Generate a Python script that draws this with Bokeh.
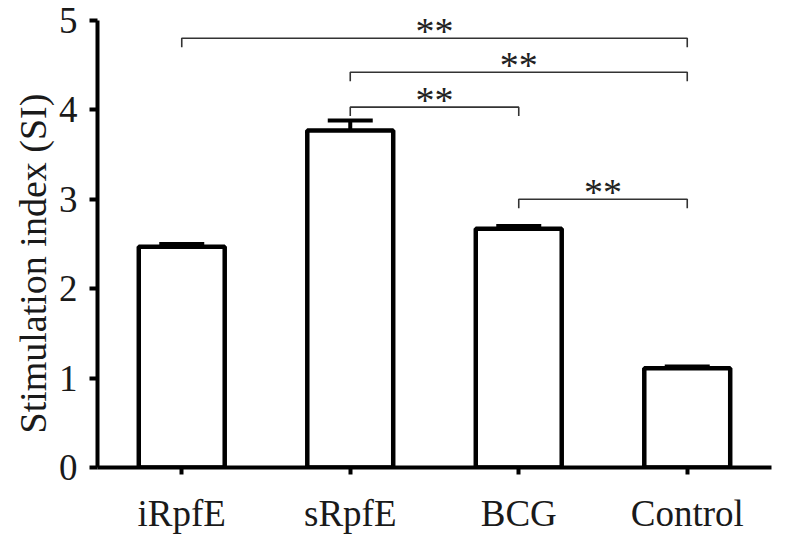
from bokeh.plotting import figure
from bokeh.models import ColumnDataSource, FixedTicker, Whisker, Title
from bokeh.embed import file_html
from bokeh.resources import INLINE
from bokeh.core.properties import value

categories = ["iRpfE", "sRpfE", "BCG", "Control"]
means = [2.47, 3.77, 2.67, 1.11]
errors = [0.03, 0.11, 0.03, 0.02]

# significance brackets: (start index, end index, height)
br_start = [0, 1, 1, 2]
br_end = [3, 3, 2, 3]
br_height = [4.80, 4.42, 4.03, 3.00]
br_label = ["**", "**", "**", "**"]
y_title = "Stimulation index (SI)"

xs = list(range(len(categories)))
FONT = "Liberation Serif"

p = figure(width=780, height=536, x_range=(-0.5, 3.5), y_range=(0, 5.2),
           output_backend="svg", toolbar_location=None,
           min_border_left=97, min_border_right=9, min_border_top=2, min_border_bottom=66)
p.outline_line_color = None
p.xgrid.visible = False
p.ygrid.visible = False

src = ColumnDataSource(dict(x=xs, top=means,
                            upper=[m + e for m, e in zip(means, errors)],
                            lower=[m - e for m, e in zip(means, errors)]))
p.vbar(x="x", top="top", bottom=0, width=0.51, source=src,
       fill_color="white", line_color="black", line_width=4.5)
w = Whisker(base="x", upper="upper", lower="lower", source=src,
            line_color="black", line_width=4)
for hd in (w.upper_head, w.lower_head):
    hd.size = 45
    hd.line_width = 4
    hd.line_color = "black"
p.add_layout(w)

drop = 0.1
for s, e, h, lab in zip(br_start, br_end, br_height, br_label):
    p.line([s, s, e, e], [h - drop, h, h, h - drop], line_color="#333333", line_width=1.6)
    p.text(x=[(s + e) / 2], y=[h + 0.08], text=[lab], text_align="center",
           text_baseline="alphabetic", text_font=value(FONT), text_font_size="38px",
           text_color="#222222")

p.xaxis.ticker = FixedTicker(ticks=xs)
p.xaxis.major_label_overrides = {i: c for i, c in enumerate(categories)}
p.yaxis.ticker = FixedTicker(ticks=[0, 1, 2, 3, 4, 5])
p.yaxis.bounds = (0, 5)

for ax in (p.xaxis, p.yaxis):
    ax.axis_line_width = 4
    ax.axis_line_color = "black"
    ax.major_tick_line_width = 4
    ax.major_tick_line_color = "black"
    ax.major_tick_in = 0
    ax.minor_tick_line_color = None
    ax.major_label_text_font = FONT
    ax.major_label_text_font_size = "37px"
    ax.major_label_text_color = "#1a1a1a"

p.xaxis.major_tick_out = 7
p.yaxis.major_tick_out = 8
p.xaxis.major_label_standoff = 18
p.yaxis.major_label_standoff = 12

t = Title(text=y_title, align="left", offset=34, text_font=FONT,
          text_font_size="38px", text_font_style="normal", text_color="#1a1a1a",
          standoff=4)
p.add_layout(t, "left")

open("out.html", "w").write(file_html(p, INLINE))
